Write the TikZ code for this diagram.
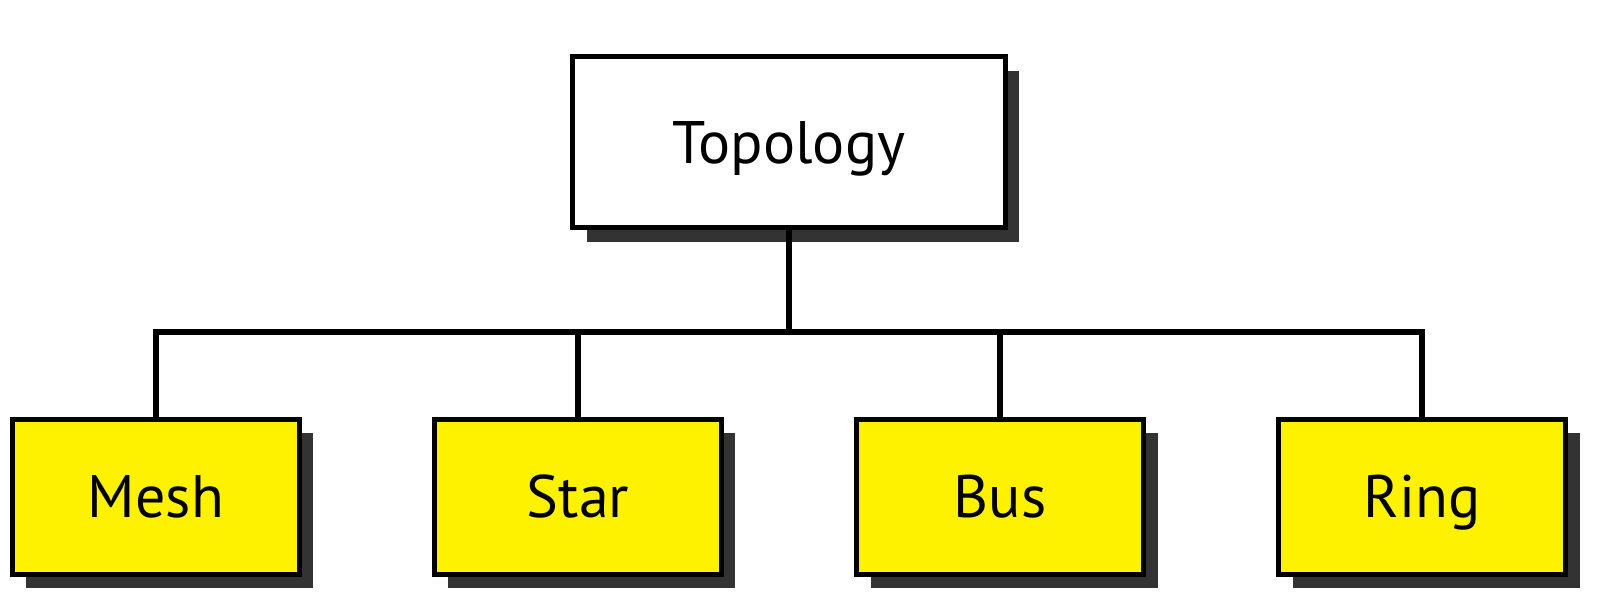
\documentclass[tikz,border=0pt]{standalone}
\usepackage{fontspec}
\newfontfamily\boxfont{PT Sans}
\usetikzlibrary{shadows}
\definecolor{shadowgray}{HTML}{333333}
\tikzset{
  topobox/.style={draw, line width=2.5pt, fill=white, inner sep=0pt,
    minimum width=216pt, minimum height=85.5pt,
    text height=21pt, text depth=0pt,
    font=\boxfont\fontsize{30}{36}\selectfont,
    drop shadow={shadow xshift=7pt, shadow yshift=-7pt, fill=shadowgray, opacity=1}},
  kindbox/.style={topobox, fill=yellow, minimum width=143.5pt, minimum height=77.5pt}
}
\begin{document}
\begin{tikzpicture}
			[level 1/.style={level distance=177pt,
				sibling distance=211pt},
			edge from parent/.style={draw, line width=3pt},
			edge from parent path={(\tikzparentnode.south) -- ++(0,-50.5pt)
				-| (\tikzchildnode.north)}]
			\useasboundingbox (-394.5pt,71.25pt) rectangle (416.5pt,-233.75pt);
			\node[topobox] (topology) {Topology}
			child {node[kindbox] (mesh) {Mesh}}
			child {node[kindbox] (star) {Star}}
			child {node[kindbox] (bus) {Bus}}
			child {node[kindbox] (ring) {Ring}}
			;
		\end{tikzpicture}
\end{document}
